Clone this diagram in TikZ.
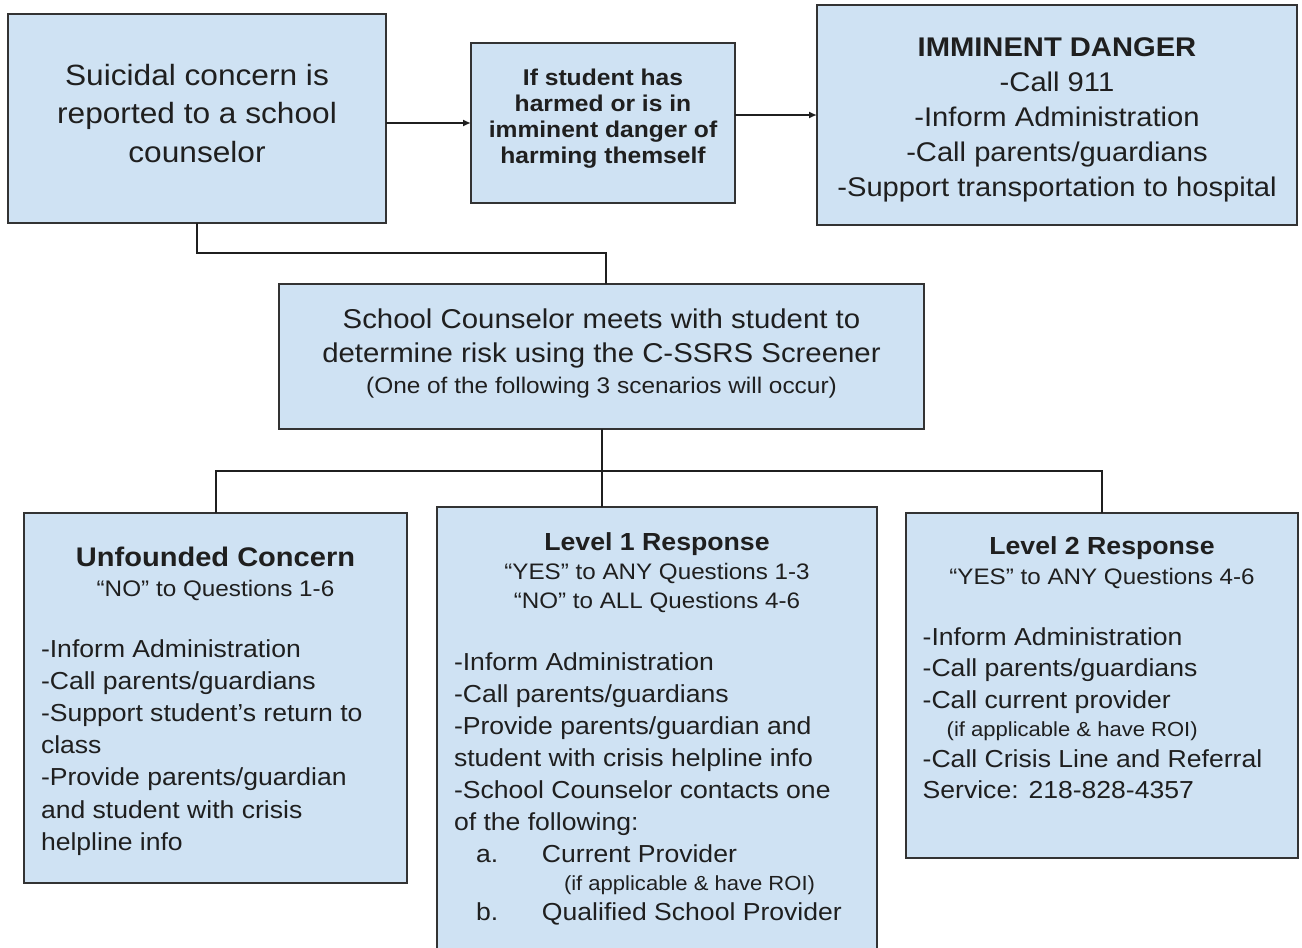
\documentclass[tikz,border=0pt]{standalone}
\usepackage{fontspec}
\setmainfont{Liberation Sans}[FakeStretch=1.08]
\usetikzlibrary{arrows.meta}
\definecolor{boxfill}{HTML}{CFE2F3}
\definecolor{boxline}{HTML}{333333}
\definecolor{inkcol}{HTML}{1F1F1F}
\newcommand\fsz[1]{\fontsize{#1}{#1}\selectfont}
\newcommand\ctrlns[2]{\vtop{\baselineskip=#1\lineskiplimit=-\maxdimen\halign{\hfil##\hfil\cr#2\crcr}}}
\newcommand\leftlns[2]{\vtop{\baselineskip=#1\lineskiplimit=-\maxdimen\halign{##\hfil\cr#2\crcr}}}
\begin{document}
\begin{tikzpicture}[x=1pt,y=-1pt,
  box/.style={draw=boxline, fill=boxfill, line width=2pt, inner sep=0pt, outer sep=0pt},
  txt/.style={inner sep=0pt, outer sep=0pt, text=inkcol},
  conn/.style={draw=inkcol, line width=2pt},
  arr/.style={conn, -{Latex[length=8pt,width=7pt]}}]
\useasboundingbox (0,0) rectangle (1302,948);
\clip (0,0) rectangle (1302,948);
\fill[white] (0,0) rectangle (1302,948);

% boxes
\node[box, minimum width=378pt, minimum height=209pt] (b1) at (197,118.5) {};
\node[box, minimum width=264pt, minimum height=160pt] (b2) at (603,123) {};
\node[box, minimum width=480pt, minimum height=220pt] (b3) at (1057,115) {};
\node[box, minimum width=645pt, minimum height=145pt] (b4) at (601.5,356.5) {};
\node[box, minimum width=383pt, minimum height=370pt] (b5) at (215.5,698) {};
\node[box, minimum width=440pt, minimum height=463pt] (b6) at (657,738.5) {};
\node[box, minimum width=392pt, minimum height=345pt] (b7) at (1102,685.5) {};

% connectors
\draw[arr] (b1.east |- b2.west) -- (b2.west);
\draw[arr] (b2.east |- b3.west) -- (b3.west);
\coordinate (j1) at (606,253);
\draw[conn] (b1.south) |- (j1) -- (j1 |- b4.north);
\coordinate (j2) at (601.5,471);
\draw[conn] (b4.south) -- (j2);
\draw[conn] (b5.north) |- (b7.north |- j2) -- (b7.north);
\draw[conn] (j2) -- (j2 |- b6.north);

% texts
\node[txt, anchor=base, font=\fsz{29.3}] (t1) at (197,85)
  {\ctrlns{38.5pt}{Suicidal concern is\cr reported to a school\cr counselor}};
\node[txt, anchor=base, font=\bfseries\fsz{22.8}] (t2) at (603,85)
  {\ctrlns{26pt}{If student has\cr harmed or is in\cr imminent danger of\cr harming themself}};
\node[txt, anchor=base, font=\fsz{27}] (t3) at (1057,56)
  {\ctrlns{35.2pt}{\bfseries IMMINENT DANGER\cr -Call 911\cr -Inform Administration\cr -Call parents/guardians\cr -Support transportation to hospital}};
\node[txt, anchor=base, font=\fsz{27.2}] (t4) at (601.5,328)
  {\ctrlns{34pt}{School Counselor meets with student to\cr determine risk using the C-SSRS Screener\cr\noalign{\vskip-3pt}\fsz{22.6}(One of the following 3 scenarios will occur)}};

\node[txt, anchor=base] (t5h) at (215.5,566.7)
  {\ctrlns{30pt}{\bfseries\fsz{26.9}Unfounded Concern\cr \fsz{22.5}“NO” to Questions 1-6}};
\node[txt, anchor=base west, font=\fsz{24.6}] (t5b) at (41,657)
  {\leftlns{32.2pt}{-Inform Administration\cr -Call parents/guardians\cr -Support student’s return to\cr class\cr -Provide parents/guardian\cr and student with crisis\cr helpline info}};

\node[txt, anchor=base] (t6h) at (657,550)
  {\ctrlns{29pt}{\bfseries\fsz{24.7}Level 1 Response\cr \fsz{22.4}“YES” to ANY Questions 1-3\cr \fsz{22.4}“NO” to ALL Questions 4-6}};
\node[txt, anchor=base west, font=\fsz{24.6}] (t6b) at (454,670)
  {\leftlns{32.1pt}{-Inform Administration\cr -Call parents/guardians\cr -Provide parents/guardian and\cr student with crisis helpline info\cr -School Counselor contacts one\cr of the following:\cr
  \hskip22pt\hbox to 66pt{a.\hfil}Current Provider\cr\noalign{\vskip-4.5pt}
  \hskip110pt{\fsz{20.4}(if applicable \& have ROI)}\cr\noalign{\vskip-2pt}
  \hskip22pt\hbox to 66pt{b.\hfil}Qualified School Provider}};

\node[txt, anchor=base] (t7h) at (1102,554)
  {\ctrlns{30pt}{\bfseries\fsz{24.7}Level 2 Response\cr \fsz{22.4}“YES” to ANY Questions 4-6}};
\node[txt, anchor=base west, font=\fsz{24.6}] (t7b) at (922.7,645)
  {\leftlns{31.5pt}{-Inform Administration\cr -Call parents/guardians\cr -Call current provider\cr\noalign{\vskip-3pt}
  \hskip24pt{\fsz{20.4}(if applicable \& have ROI)}\cr\noalign{\vskip-1pt}
  -Call Crisis Line and Referral\cr Service: 218-828-4357}};
\end{tikzpicture}
\end{document}
